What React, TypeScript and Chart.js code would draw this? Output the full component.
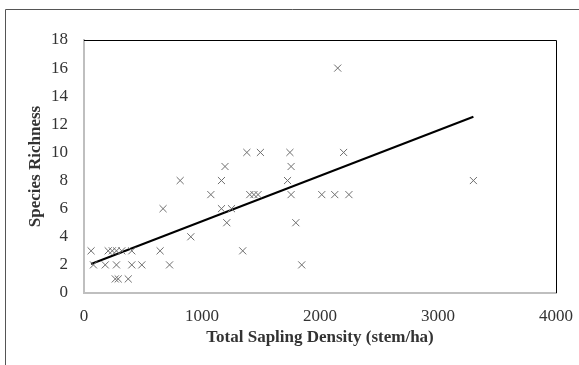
import React, { useEffect, useRef } from "react";
import { Chart, registerables } from "chart.js";

Chart.register(...registerables);

const richness1X = [265, 290, 375];
const richness2X = [80, 180, 275, 405, 490, 725, 1845];
const richness3X = [60, 205, 240, 275, 320, 405, 645, 1345];
const richness4X = [905];
const richness5X = [1210, 1795];
const richness6X = [670, 1165, 1250];
const richness7X = [1075, 1405, 1440, 1475, 1755, 2015, 2125, 2245];
const richness8X = [815, 1165, 1725, 3300];
const richness9X = [1195, 1755];
const richness10X = [1380, 1495, 1745, 2200];
const richness16X = [2150];

const groups: [number, number[]][] = [
  [1, richness1X],
  [2, richness2X],
  [3, richness3X],
  [4, richness4X],
  [5, richness5X],
  [6, richness6X],
  [7, richness7X],
  [8, richness8X],
  [9, richness9X],
  [10, richness10X],
  [16, richness16X],
];

const trendX = [60, 3300];
const trendY = [2.06, 12.54];

const xTicks = [0, 1000, 2000, 3000, 4000];
const yTicks = [0, 2, 4, 6, 8, 10, 12, 14, 16, 18];

const frameLines = {
  id: "frameLines",
  afterDraw(chart: any) {
    const { ctx, chartArea } = chart;
    ctx.save();
    ctx.strokeStyle = "#000";
    ctx.lineWidth = 1;
    ctx.beginPath();
    ctx.moveTo(chartArea.left, Math.round(chartArea.top) + 0.5);
    ctx.lineTo(Math.round(chartArea.right) + 0.5, Math.round(chartArea.top) + 0.5);
    ctx.lineTo(Math.round(chartArea.right) + 0.5, chartArea.bottom);
    ctx.stroke();
    ctx.strokeStyle = "#555";
    ctx.beginPath();
    ctx.moveTo(5.5, 400);
    ctx.lineTo(5.5, 9.5);
    ctx.lineTo(700, 9.5);
    ctx.stroke();
    ctx.restore();
  },
};

export default function App() {
  const ref = useRef<HTMLCanvasElement>(null);
  useEffect(() => {
    document.body.style.margin = "0";
    const points: { x: number; y: number }[] = [];
    groups.forEach(([y, xs]) => xs.forEach((x) => points.push({ x, y })));
    const chart = new Chart(ref.current!, {
      type: "scatter",
      data: {
        datasets: [
          {
            data: points,
            pointStyle: "crossRot",
            pointRadius: 5,
            borderColor: "#6e6e6e",
            backgroundColor: "#6e6e6e",
            pointBorderWidth: 1,
          } as any,
          {
            type: "line",
            data: trendX.map((x, i) => ({ x, y: trendY[i] })),
            borderColor: "#000",
            borderWidth: 2,
            pointRadius: 0,
            fill: false,
          } as any,
        ],
      },
      options: {
        animation: false,
        responsive: false,
        layout: { padding: { top: 40, right: 23, left: 0, bottom: 0 } },
        plugins: { legend: { display: false }, tooltip: { enabled: false } },
        scales: {
          x: {
            type: "linear",
            min: 0,
            max: 4000,
            afterBuildTicks: (s: any) => {
              s.ticks = xTicks.map((v) => ({ value: v }));
            },
            afterFit: (s: any) => {
              s.height = 72;
              s.paddingLeft = 0;
              s.paddingRight = 0;
            },
            grid: { display: false, drawTicks: false },
            border: { color: "#bfbfbf", width: 2 },
            ticks: {
              color: "#333",
              padding: 13,
              font: { family: "Liberation Serif", size: 17 },
              maxRotation: 0,
              callback: (v: any) => String(v),
            },
            title: {
              display: true,
              text: "Total Sapling Density (stem/ha)",
              color: "#333",
              font: { family: "Liberation Serif", size: 17, weight: "bold" },
              padding: { top: 0, bottom: 17 },
            },
          },
          y: {
            type: "linear",
            min: 0,
            max: 18,
            afterBuildTicks: (s: any) => {
              s.ticks = yTicks.map((v) => ({ value: v }));
            },
            afterFit: (s: any) => {
              s.width = 84;
              s.paddingTop = 0;
              s.paddingBottom = 0;
            },
            grid: { display: false, drawTicks: false },
            border: { color: "#bfbfbf", width: 2 },
            ticks: {
              color: "#333",
              padding: 16,
              font: { family: "Liberation Serif", size: 17 },
              callback: (v: any) => String(v),
            },
            title: {
              display: true,
              text: "Species Richness",
              color: "#333",
              font: { family: "Liberation Serif", size: 17, weight: "bold" },
              padding: { top: 25, bottom: 0 },
            },
          },
        },
      },
      plugins: [frameLines],
    });
    return () => chart.destroy();
  }, []);
  return (
    <div style={{ position: "fixed", left: 0, top: 0, width: 579, height: 365, background: "#fff" }}>
      <canvas ref={ref} width={579} height={365} style={{ display: "block" }} />
    </div>
  );
}
